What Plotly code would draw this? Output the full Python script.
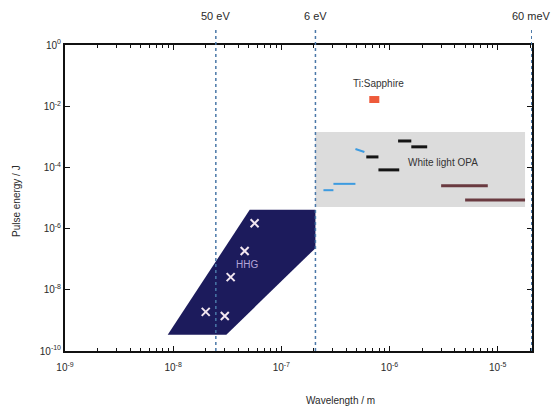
import numpy as np
import plotly.graph_objects as go

# ---------------- data ----------------
HC_EVM = 1.23984e-6  # eV*m
energy_labels = ["50 eV", "6 eV", "60 meV"]
energy_values_eV = [50.0, 6.0, 0.06]

# HHG region polygon (wavelength m, pulse energy J)
hhg_x = [8.9e-9, 3.1e-8, 2.066e-7, 2.066e-7, 5.1e-8, 8.9e-9]
hhg_y = [3.4e-10, 3.4e-10, 2.3e-7, 4.1e-6, 4.1e-6, 3.4e-10]
# HHG individual sources
hhg_pts_x = [5.66e-8, 4.58e-8, 3.4e-8, 2.0e-8, 3.0e-8]
hhg_pts_y = [1.5e-6, 1.85e-7, 2.6e-8, 1.9e-9, 1.4e-9]

# White light OPA region
opa_x = [2.066e-7, 1.79e-5, 1.79e-5, 2.066e-7, 2.066e-7]
opa_y = [5.1e-6, 5.1e-6, 1.44e-3, 1.44e-3, 5.1e-6]

# Ti:Sapphire box
tis_x = [6.5e-7, 8.05e-7, 8.05e-7, 6.5e-7, 6.5e-7]
tis_y = [1.27e-2, 1.27e-2, 2.15e-2, 2.15e-2, 1.27e-2]

# OPA segments: (x0, x1, y0, y1)
blue_segments = [
    (4.84e-7, 5.86e-7, 4.0e-4, 3.2e-4),
    (3.03e-7, 4.84e-7, 2.9e-5, 2.9e-5),
    (2.45e-7, 3.03e-7, 1.8e-5, 1.8e-5),
]
black_segments = [
    (6.1e-7, 7.9e-7, 2.2e-4, 2.2e-4),
    (7.9e-7, 1.23e-6, 8.3e-5, 8.3e-5),
    (1.2e-6, 1.59e-6, 7.3e-4, 7.3e-4),
    (1.59e-6, 2.23e-6, 4.7e-4, 4.7e-4),
]
brown_segments = [
    (3.0e-6, 8.1e-6, 2.5e-5, 2.5e-5),
    (5.0e-6, 1.79e-5, 8.6e-6, 8.6e-6),
]

x_tick_vals = [1e-9, 1e-8, 1e-7, 1e-6, 1e-5]
x_tick_text = ["10<sup>-9</sup>", "10<sup>-8</sup>", "10<sup>-7</sup>",
               "10<sup>-6</sup>", "10<sup>-5</sup>"]
y_tick_vals = [1e-10, 1e-8, 1e-6, 1e-4, 1e-2, 1e0]
y_tick_text = ["10<sup>-10</sup>", "10<sup>-8</sup>", "10<sup>-6</sup>",
               "10<sup>-4</sup>", "10<sup>-2</sup>", "10<sup>0</sup>"]

FONT = "Liberation Sans, Arial, sans-serif"
TXT = "#2a2a2a"

fig = go.Figure()

fig.add_trace(go.Scatter(x=opa_x, y=opa_y, fill="toself", mode="none",
                         fillcolor="#dcdcdc", hoverinfo="skip"))
fig.add_trace(go.Scatter(x=tis_x, y=tis_y, fill="toself", mode="none",
                         fillcolor="#ee5a3a", hoverinfo="skip"))

for segs, col, w in [(blue_segments, "#3d9be0", 2),
                     (black_segments, "#151515", 3),
                     (brown_segments, "#6a3a40", 3)]:
    for x0, x1, y0, y1 in segs:
        fig.add_trace(go.Scatter(x=[x0, x1], y=[y0, y1], mode="lines",
                                 line=dict(color=col, width=w), hoverinfo="skip"))

fig.add_trace(go.Scatter(x=hhg_x, y=hhg_y, fill="toself", mode="none",
                         fillcolor="#1c1b5c", hoverinfo="skip"))
fig.add_trace(go.Scatter(x=hhg_pts_x, y=hhg_pts_y, mode="markers",
                         marker=dict(symbol="x-thin", size=8,
                                     line=dict(color="#f2e6f0", width=2)),
                         hoverinfo="skip"))

# energy reference lines
lam_max = HC_EVM / min(energy_values_eV)
for lab, e in zip(energy_labels, energy_values_eV):
    lam = HC_EVM / e
    fig.add_shape(type="line", xref="x", yref="paper", x0=lam, x1=lam,
                  y0=0, y1=1.05, line=dict(color="#4a78a8", width=1.5, dash="dot"),
                  layer="above")
    fig.add_annotation(x=np.log10(lam) - 1e-6, y=1.095, xref="x", yref="paper",
                       text=lab, showarrow=False, xanchor="center", yanchor="middle",
                       font=dict(family=FONT, size=11, color=TXT))

fig.add_annotation(x=np.log10(4.8e-8), y=np.log10(6.5e-8), text="HHG",
                   showarrow=False, font=dict(family=FONT, size=10, color="#b4a4d8"))
fig.add_annotation(x=np.log10(1.43e-6), y=np.log10(1.5e-4), text="White light OPA",
                   xanchor="left", showarrow=False,
                   font=dict(family=FONT, size=10, color="#333333"))
fig.add_annotation(x=np.log10(7.9e-7), y=np.log10(5.7e-2), text="Ti:Sapphire",
                   showarrow=False, font=dict(family=FONT, size=10, color="#333333"))

fig.add_annotation(x=-0.105, y=0.49, xref="paper", yref="paper",
                   text="Pulse energy / J", textangle=-90, showarrow=False,
                   xanchor="center", yanchor="middle",
                   font=dict(family=FONT, size=10, color=TXT))
fig.add_annotation(x=0.589, y=-0.163, xref="paper", yref="paper",
                   text="Wavelength / m", showarrow=False,
                   xanchor="center", yanchor="middle",
                   font=dict(family=FONT, size=10, color=TXT))

minor_x = [m * 10.0 ** d for d in range(-9, -4) for m in range(2, 10)]

fig.update_layout(
    width=555, height=412,
    margin=dict(l=65, r=23, t=45, b=61),
    plot_bgcolor="white", paper_bgcolor="white",
    showlegend=False,
    font=dict(family=FONT, size=10, color=TXT),
    xaxis=dict(type="log", range=[-9, np.log10(lam_max) + 0.002], showgrid=False,
               zeroline=False, automargin=False,
               showline=True, linecolor="#111111", linewidth=2, mirror="ticks",
               ticks="inside", ticklen=5, tickwidth=1.2, tickcolor="#111111",
               tickmode="array", tickvals=x_tick_vals, ticktext=x_tick_text,
               ticklabelstandoff=6,
               minor=dict(tickvals=minor_x, ticks="inside", ticklen=3,
                          tickcolor="#111111", tickwidth=1),
               tickfont=dict(size=10, color=TXT)),
    yaxis=dict(type="log", range=[-10, 0], showgrid=False, zeroline=False,
               automargin=False,
               showline=True, linecolor="#111111", linewidth=2, mirror="ticks",
               ticks="inside", ticklen=5, tickwidth=1.2, tickcolor="#111111",
               tickmode="array", tickvals=y_tick_vals, ticktext=y_tick_text,
               tickfont=dict(size=10, color=TXT)),
)

fig.write_html("out.html", config={"displayModeBar": False},
               post_script="document.body.style.margin='0';"
                           "document.body.style.overflow='hidden';")
